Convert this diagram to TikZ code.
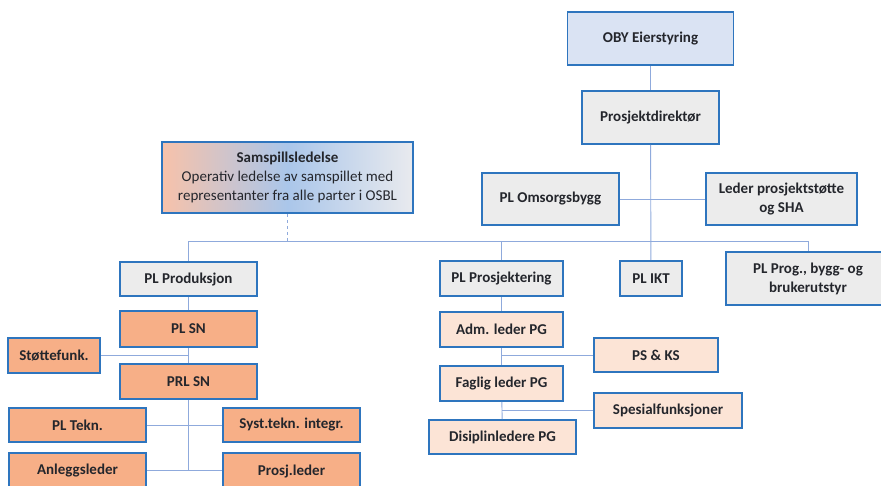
\documentclass[tikz,border=0pt]{standalone}
\usepackage{fontspec}
\setmainfont{Carlito}
\definecolor{boxblue}{RGB}{46,117,190}
\definecolor{linkblue}{RGB}{143,170,220}
\definecolor{gradblue}{RGB}{170,198,234}
\definecolor{gradpeach}{RGB}{247,194,170}
\definecolor{gradgrey}{RGB}{233,234,238}
\definecolor{greyfill}{RGB}{236,236,236}
\definecolor{skyfill}{RGB}{218,227,243}
\definecolor{salmon}{RGB}{247,175,135}
\definecolor{peach}{RGB}{252,228,214}
\definecolor{textgrey}{RGB}{36,38,44}

\begin{document}
\begin{tikzpicture}[x=1pt,y=-1pt,
  org node/.style={rectangle,draw=boxblue,line width=1.8pt,inner sep=2pt,align=center,
    text=textgrey,font=\fontsize{15}{19}\selectfont\bfseries},
  grey node/.style={org node,fill=greyfill},
  sky node/.style={org node,fill=skyfill},
  sn node/.style={org node,fill=salmon},
  pg node/.style={org node,fill=peach},
  link/.style={draw=linkblue,line width=0.9pt}]

  \useasboundingbox (0,0) rectangle (881,485);

  \node[sky node,minimum width=166pt,minimum height=53pt] (oby) at (650.5,38.5) {OBY Eierstyring};
  \node[grey node,minimum width=137pt,minimum height=53pt] (dir) at (650.5,117.5) {Prosjektdirektør};
  \node[grey node,minimum width=137pt,minimum height=52pt] (oms) at (550.5,199) {PL Omsorgsbygg};
  \node[grey node,minimum width=151pt,minimum height=52pt] (leder) at (781.5,199) {Leder prosjektstøtte\\og SHA};
  \node[org node,minimum width=251pt,minimum height=71pt,left color=gradpeach,
    right color=gradgrey,middle color=gradblue] (samspill) at (287.5,177.5)
    {Samspillsledelse\\\mdseries Operativ ledelse av samspillet med\\\mdseries representanter fra alle parter i OSBL};

  \coordinate (bus) at (650.5,241);

  \node[grey node,minimum width=137pt,minimum height=34pt] (prod) at (188.5,279) {PL Produksjon};
  \node[sn node,minimum width=137pt,minimum height=36pt] (plsn) at (188.5,329) {PL SN};
  \node[sn node,minimum width=92pt,minimum height=35pt] (stotte) at (54,355.5) {Støttefunk.};
  \node[sn node,minimum width=137pt,minimum height=35pt] (prlsn) at (188.5,381.5) {PRL SN};
  \node[sn node,minimum width=137pt,minimum height=34pt] (tekn) at (77.5,425) {PL Tekn.};
  \node[sn node,minimum width=137pt,minimum height=34pt] (syst) at (291.5,425) {Syst.tekn. integr.};
  \node[sn node,minimum width=137pt,minimum height=36pt] (anlegg) at (77.5,471) {Anleggsleder};
  \node[sn node,minimum width=137pt,minimum height=36pt] (prosj) at (291.5,471) {Prosj.leder};
  \coordinate (prodend) at (188.5,470);

  \node[grey node,minimum width=123pt,minimum height=35pt] (proj) at (501.5,278.5) {PL Prosjektering};
  \node[grey node,minimum width=62pt,minimum height=35pt] (ikt) at (651,278.5) {PL IKT};
  \node[grey node,minimum width=164pt,minimum height=53pt] (prog) at (808,278.5) {PL Prog., bygg- og\\brukerutstyr};
  \node[pg node,minimum width=123pt,minimum height=35pt] (adm) at (501.5,329.5) {Adm. leder PG};
  \node[pg node,minimum width=124pt,minimum height=34pt] (psks) at (656,355) {PS \& KS};
  \node[pg node,minimum width=123pt,minimum height=35pt] (fag) at (501.5,383.5) {Faglig leder PG};
  \node[pg node,minimum width=148pt,minimum height=35pt] (spes) at (668,410.5) {Spesialfunksjoner};
  \node[pg node,minimum width=147pt,minimum height=34pt] (dis) at (502.5,437) {Disiplinledere PG};

  \path[link]
    (oby) edge (dir)
    (dir) edge (ikt)
    (oms) edge (leder);
  \draw[link] (prod.north) -- (prod.north |- bus) -| (prog.north);
  \draw[link] (proj.north) -- (proj.north |- bus);
  \draw[link,dashed] (samspill.south) -- (samspill.south |- bus);

  \path[link]
    (prod) edge (plsn)
    (plsn) edge (prlsn)
    (prlsn.south) edge (prodend)
    (tekn) edge (syst)
    (anlegg.east |- prodend) edge (prosj.west |- prodend);
  \draw[link] (stotte.east) -- (stotte.east -| plsn.south);

  \path[link]
    (proj) edge (adm)
    (adm) edge (fag)
    (fag) edge (dis);
  \draw[link] (psks.west) -- (psks.west -| adm.south);
  \draw[link] (spes.west) -- (spes.west -| fag.south);
\end{tikzpicture}
\end{document}
